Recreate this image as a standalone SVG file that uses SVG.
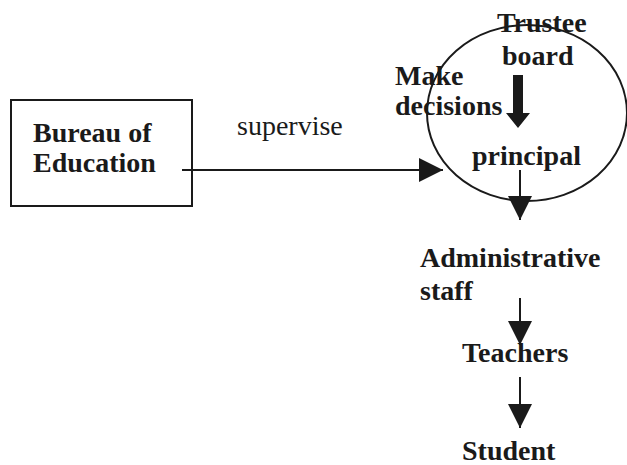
<svg xmlns="http://www.w3.org/2000/svg" width="627" height="465" viewBox="0 0 627 465">
<defs>
<style>
.b{font-family:"Liberation Serif","Times New Roman",serif;font-weight:bold;font-size:28px;fill:#1a1a1a}
.n{font-family:"Liberation Serif","Times New Roman",serif;font-size:28px;fill:#1a1a1a}
.ln{stroke:#1a1a1a;stroke-width:2;fill:none}
</style>
<marker id="ah" markerUnits="userSpaceOnUse" markerWidth="24" markerHeight="24" refX="22" refY="11" orient="auto" viewBox="0 0 22 22">
<path d="M0,0 L22,11 L0,22 Z" fill="#1a1a1a"/>
</marker>
</defs>
<rect width="627" height="465" fill="#ffffff"/>
<g id="bureau">
<rect x="11" y="100" width="181" height="106" class="ln"/>
<text class="b" x="33" y="142">Bureau of</text>
<text class="b" x="33" y="172">Education</text>
</g>
<g id="school">
<ellipse cx="527" cy="113" rx="100" ry="88" class="ln"/>
</g>
<g id="trustee">
<text class="b" x="497" y="32">Trustee</text>
<text class="b" x="502" y="65">board</text>
</g>
<g id="make-decisions">
<text class="b" x="395" y="85">Make</text>
<text class="b" x="395" y="115">decisions</text>
</g>
<g id="principal">
<text class="b" x="472" y="165">principal</text>
</g>
<g id="admin">
<text class="b" x="420" y="267">Administrative</text>
<text class="b" x="420" y="300">staff</text>
</g>
<g id="teachers">
<text class="b" x="462" y="362">Teachers</text>
</g>
<g id="student">
<text class="b" x="462" y="460">Student</text>
</g>
<g id="connectors">
<line x1="182" y1="170" x2="443" y2="170" class="ln" marker-end="url(#ah)"/>
<text class="n" x="237" y="135">supervise</text>
<path d="M513,75 L523,75 L523,113 L530,113 L518,128 L506,113 L513,113 Z" fill="#1a1a1a"/>
<line x1="520" y1="170" x2="520" y2="220" class="ln" marker-end="url(#ah)"/>
<line x1="520" y1="298" x2="520" y2="345" class="ln" marker-end="url(#ah)"/>
<line x1="520" y1="377" x2="520" y2="428" class="ln" marker-end="url(#ah)"/>
</g>
</svg>
